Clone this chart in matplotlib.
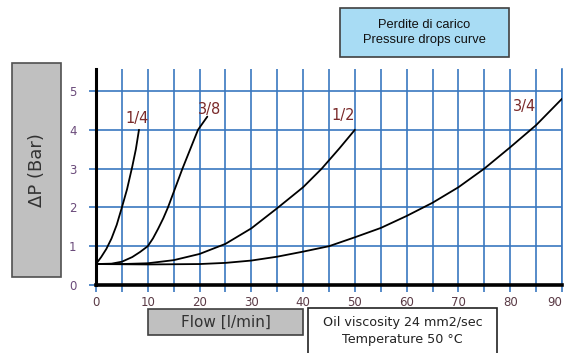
import matplotlib
matplotlib.use("Agg")
import matplotlib.pyplot as plt
from matplotlib.patches import Rectangle
from matplotlib import font_manager

# ---- data ----
x_q14 = [0, 1, 2, 3, 4, 5, 6, 7, 7.7, 8.3]
y_q14 = [0.54, 0.72, 0.93, 1.2, 1.55, 2.0, 2.47, 3.05, 3.5, 4.0]

x_q38 = [0, 3, 5, 7, 8.5, 10, 11, 12, 13, 13.9, 15.3, 16.7, 18.2, 19.7, 21.5]
y_q38 = [0.54, 0.55, 0.6, 0.72, 0.85, 1.0, 1.2, 1.45, 1.72, 2.0, 2.5, 3.0, 3.5, 4.0, 4.34]

x_q12 = [0, 5, 10, 15, 20, 25, 30, 35, 40, 43.6, 47, 50]
y_q12 = [0.54, 0.54, 0.56, 0.64, 0.8, 1.06, 1.46, 1.98, 2.52, 3.0, 3.52, 4.0]

x_q34 = [0, 10, 20, 25, 30, 35, 40, 45, 50, 55, 60, 65, 70, 75, 80, 85, 90]
y_q34 = [0.54, 0.53, 0.54, 0.57, 0.63, 0.73, 0.86, 1.0, 1.23, 1.47, 1.78, 2.12, 2.52, 3.0, 3.55, 4.12, 4.8]

curve_labels = ["1/4", "3/8", "1/2", "3/4"]
label_x = [7.9, 21.9, 47.7, 82.7]
label_y = [4.28, 4.53, 4.37, 4.6]

x_ticks = [0, 10, 20, 30, 40, 50, 60, 70, 80, 90]
y_ticks = [0, 1, 2, 3, 4, 5]

title_text = "Perdite di carico\nPressure drops curve"
ylabel_text = "ΔP (Bar)"
xlabel_text = "Flow [l/min]"
note_text = "Oil viscosity 24 mm2/sec\nTemperature 50 °C"

# ---- fonts ----
names = {f.name for f in font_manager.fontManager.ttflist}
narrow = "Liberation Sans Narrow" if "Liberation Sans Narrow" in names else "DejaVu Sans"
plain = "Liberation Sans" if "Liberation Sans" in names else "DejaVu Sans"

W, H = 568, 353
fig = plt.figure(figsize=(W / 100, H / 100), dpi=100)

def fx(px):
    return px / W

def fy(py):
    return 1 - py / H

ax = fig.add_axes([fx(96), fy(285), fx(562) - fx(96), fy(69) - fy(285)])
ax.set_xlim(0, 90)
ax.set_ylim(0, 5.567)

grid_c = "#3a78c0"
ax.set_xticks(list(range(0, 91, 5)))
ax.set_yticks(y_ticks)
ax.grid(True, color=grid_c, lw=1.2, zorder=1)
ax.tick_params(axis="both", color=grid_c, length=5, width=1.2, labelsize=8.5)
ax.set_xticklabels([str(v) if v in x_ticks else "" for v in range(0, 91, 5)],
                   fontfamily=narrow, color="#5a3a45")
ax.set_yticklabels([str(v) for v in y_ticks], fontfamily=narrow, color="#6a4a7a")
ax.tick_params(axis="y", pad=9)
ax.tick_params(axis="x", pad=3)
xl = ax.get_xticklabels()
xl[-1].set_horizontalalignment("right")
xl[-1].set_x(90.9)

ax.spines["top"].set_visible(False)
ax.spines["right"].set_color(grid_c)
ax.spines["right"].set_linewidth(1.2)
ax.spines["left"].set_linewidth(2.2)
ax.spines["bottom"].set_linewidth(2.6)
ax.spines["left"].set_zorder(5)
ax.spines["bottom"].set_zorder(5)

for xs, ys in [(x_q14, y_q14), (x_q38, y_q38), (x_q12, y_q12), (x_q34, y_q34)]:
    ax.plot(xs, ys, color="black", lw=1.3, zorder=4, solid_capstyle="round",
            solid_joinstyle="round")

for t, lx, ly in zip(curve_labels, label_x, label_y):
    ax.text(lx, ly, t, ha="center", va="center", fontsize=10.5, color="#7a2a2a",
            fontfamily=narrow, zorder=6)

# ---- boxes ----
def box(x0, y0, x1, y1, fc, ec="#404040", lw=1.2):
    r = Rectangle((fx(x0), fy(y1)), fx(x1) - fx(x0), fy(y0) - fy(y1),
                  transform=fig.transFigure, facecolor=fc, edgecolor=ec, lw=lw,
                  clip_on=False)
    fig.add_artist(r)

box(340, 8, 509, 57, "#a8dcf4")
fig.text(fx(424.5), fy(32.5), title_text, ha="center", va="center",
         fontsize=9.3, fontfamily=plain, color="#111111", linespacing=1.3)

box(12, 63, 61, 277, "#c0c0c0", ec="#505050")
fig.text(fx(36.5), fy(170), ylabel_text, ha="center", va="center", rotation=90,
         fontsize=13, fontfamily=narrow, color="#333333")

box(148, 309, 303, 335, "#c0c0c0", ec="#404040")
fig.text(fx(225.5), fy(322), xlabel_text, ha="center", va="center",
         fontsize=11, fontfamily=narrow, color="#333333")

box(308, 308, 497, 360, "white", ec="#222222")
fig.text(fx(402.5), fy(331), note_text, ha="center", va="center",
         fontsize=9.2, fontfamily=narrow, color="#222222", linespacing=1.4)

fig.savefig("out.png", dpi=100)
